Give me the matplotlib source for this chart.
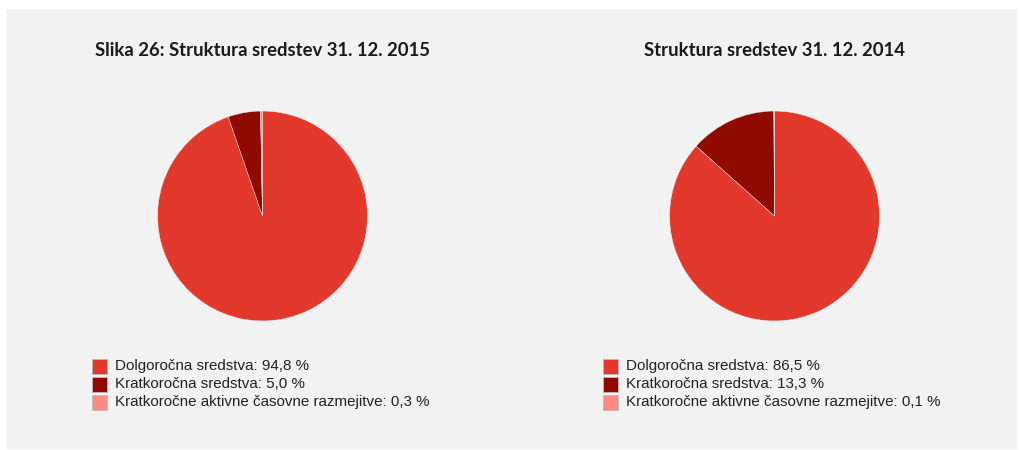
import matplotlib.pyplot as plt
from matplotlib.patches import Rectangle

# podatki
labels = ['Dolgoročna sredstva', 'Kratkoročna sredstva',
          'Kratkoročne aktivne časovne razmejitve']
values_2015 = [94.8, 5.0, 0.3]
values_2014 = [86.5, 13.3, 0.1]
titles = ['Slika 26: Struktura sredstev 31. 12. 2015', 'Struktura sredstev 31. 12. 2014']
colors = ['#e2392c', '#8f0b00', '#f98b82']

W, H = 1019, 450
fig = plt.figure(figsize=(W / 100, H / 100), dpi=100)
fig.patch.set_facecolor('white')

# sivo ozadje
fig.add_artist(Rectangle((6 / W, 1 - 449 / H), 1011 / W, 440 / H,
                         transform=fig.transFigure, facecolor='#f2f2f2',
                         edgecolor='none', zorder=0))


def draw_pie(values, title, cx, cy, r, legend_x):
    ax = fig.add_axes([(cx - r) / W, 1 - (cy + r) / H, 2 * r / W, 2 * r / H])
    ax.pie(values, colors=colors, startangle=90, counterclock=False,
           radius=1, wedgeprops=dict(edgecolor='#f2f2f2', linewidth=0.3))
    ax.set_xlim(-1.01, 1.01)
    ax.set_ylim(-1.01, 1.01)
    ax.axis('off')

    fig.text(cx / W, 1 - 50 / H, title, ha='center', va='center',
             fontsize=13.3, fontweight='bold', family='Lato', color='#1a1a1a')

    for i, (lab, val) in enumerate(zip(labels, values)):
        y = 366 + 18 * i
        fig.add_artist(Rectangle(((legend_x - 12) / W, 1 - (y + 7.5) / H),
                                 15 / W, 15 / H, transform=fig.transFigure,
                                 facecolor=colors[i], edgecolor='#bbbbbb',
                                 linewidth=0.6))
        txt = f'{lab}: {val:.1f} %'.replace('.', ',')
        fig.text((legend_x + 11) / W, 1 - y / H, txt, ha='left', va='center',
                 fontsize=10.9, family='Liberation Sans', color='#222222')


draw_pie(values_2015, titles[0], 262.5, 216, 106, 104)
draw_pie(values_2014, titles[1], 774.5, 216, 106, 615)

fig.savefig('out.png', dpi=100, facecolor=fig.get_facecolor())
